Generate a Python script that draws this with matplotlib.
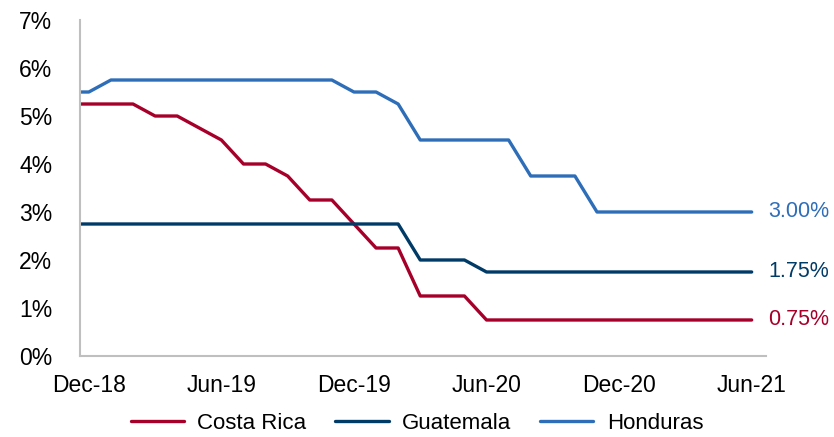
#!/usr/bin/env python3
"""Policy rates in Central America, Dec-18 to Jun-21 (monthly)."""
import numpy as np
import matplotlib
matplotlib.use("Agg")
import matplotlib.pyplot as plt

plt.rcParams["font.family"] = ["Liberation Sans", "DejaVu Sans"]

# monthly observations, Nov-18 .. Jun-21 (Nov-18 sits just left of the axis)
months = ["Nov-18", "Dec-18", "Jan-19", "Feb-19", "Mar-19", "Apr-19", "May-19", "Jun-19",
          "Jul-19", "Aug-19", "Sep-19", "Oct-19", "Nov-19", "Dec-19", "Jan-20", "Feb-20",
          "Mar-20", "Apr-20", "May-20", "Jun-20", "Jul-20", "Aug-20", "Sep-20", "Oct-20",
          "Nov-20", "Dec-20", "Jan-21", "Feb-21", "Mar-21", "Apr-21", "May-21", "Jun-21"]
costa_rica = [5.25, 5.25, 5.25, 5.25, 5.00, 5.00, 4.75, 4.50, 4.00, 4.00, 3.75, 3.25,
              3.25, 2.75, 2.25, 2.25, 1.25, 1.25, 1.25, 0.75, 0.75, 0.75, 0.75, 0.75,
              0.75, 0.75, 0.75, 0.75, 0.75, 0.75, 0.75, 0.75]
guatemala = [2.75, 2.75, 2.75, 2.75, 2.75, 2.75, 2.75, 2.75, 2.75, 2.75, 2.75, 2.75,
             2.75, 2.75, 2.75, 2.75, 2.00, 2.00, 2.00, 1.75, 1.75, 1.75, 1.75, 1.75,
             1.75, 1.75, 1.75, 1.75, 1.75, 1.75, 1.75, 1.75]
honduras = [5.50, 5.50, 5.75, 5.75, 5.75, 5.75, 5.75, 5.75, 5.75, 5.75, 5.75, 5.75,
            5.75, 5.50, 5.50, 5.25, 4.50, 4.50, 4.50, 4.50, 4.50, 3.75, 3.75, 3.75,
            3.00, 3.00, 3.00, 3.00, 3.00, 3.00, 3.00, 3.00]
tick_labels = ["Dec-18", "Jun-19", "Dec-19", "Jun-20", "Dec-20", "Jun-21"]

series = [("Costa Rica", costa_rica, "#A6002A"),
          ("Guatemala", guatemala, "#003A66"),
          ("Honduras", honduras, "#2E6EB8")]

x = np.arange(len(months)) - 1  # Dec-18 -> 0

fig = plt.figure(figsize=(8.34, 4.37), dpi=100)
ax = fig.add_axes([0.0959, 0.1854, 0.8226, 0.7688])

for name, vals, col in series:
    ax.plot(x, vals, color=col, lw=2.4, label=name, solid_capstyle="round")
    ax.annotate(f"{vals[-1]:.2f}%", xy=(x[-1], vals[-1]), xytext=(12, 0),
                textcoords="offset points", va="center", ha="left",
                color=col, fontsize=15.5)

ax.set_xlim(-0.4, 30.65)
ax.set_ylim(0, 7)
ax.set_yticks(range(0, 8))
ax.set_yticklabels([f"{v}%" for v in range(0, 8)])
ax.set_xticks([months.index(t) - 1 for t in tick_labels])
ax.set_xticklabels(tick_labels)
ax.tick_params(axis="both", length=0, labelsize=16.5, colors="black")
ax.tick_params(axis="y", pad=20)
ax.tick_params(axis="x", pad=13)

for s in ("top", "right"):
    ax.spines[s].set_visible(False)
for s in ("left", "bottom"):
    ax.spines[s].set_color("#BFBFBF")
    ax.spines[s].set_linewidth(1.5)

fig.legend(loc="lower center", bbox_to_anchor=(0.5, 0.0), ncol=3, frameon=False,
           fontsize=16, handlelength=2.4, handletextpad=0.6, columnspacing=1.3,
           borderpad=0.05, borderaxespad=0.1)

fig.savefig("out.png", dpi=100)
